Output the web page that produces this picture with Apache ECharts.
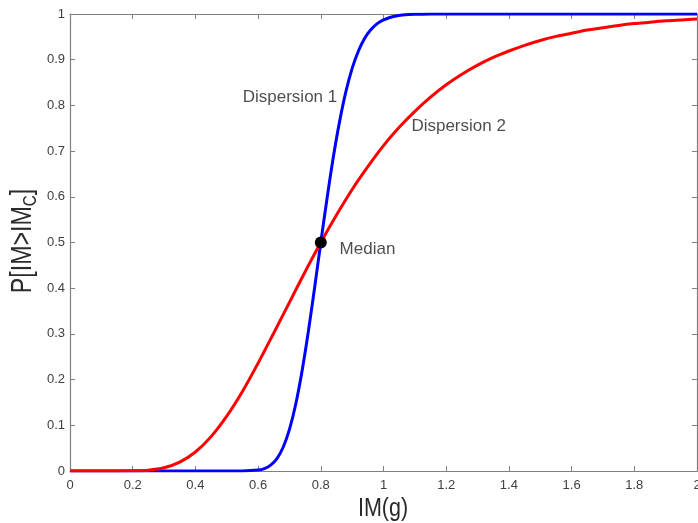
<!DOCTYPE html>
<html>
<head>
<meta charset="utf-8">
<script src="https://cdn.jsdelivr.net/npm/echarts@6/dist/echarts.min.js"></script>
<style>html,body{margin:0;padding:0;background:#fff;}#c{width:698px;height:523px;}</style>
</head>
<body>
<div id="c"></div>
<script>
// IM values (g) and P[IM>IMc]
const blueX = [0, 0.50, 0.55, 0.60, 0.62, 0.64, 0.66, 0.68, 0.70, 0.72, 0.74, 0.76, 0.78, 0.80, 0.82, 0.84, 0.86, 0.88, 0.90, 0.92, 0.94, 0.96, 0.98, 1.00, 1.02, 1.04, 1.06, 1.08, 1.10, 1.15, 1.20, 2.00];
const blueY = [0, 0, 0.0001, 0.002, 0.0054, 0.0128, 0.0272, 0.052, 0.091, 0.146, 0.218, 0.304, 0.400, 0.500, 0.597, 0.687, 0.765, 0.830, 0.881, 0.919, 0.947, 0.966, 0.979, 0.987, 0.9924, 0.9957, 0.9976, 0.9987, 0.9993, 0.9998, 1, 1];
const redX = [0, 0.05, 0.10, 0.15, 0.20, 0.25, 0.30, 0.35, 0.40, 0.45, 0.50, 0.55, 0.60, 0.65, 0.70, 0.75, 0.80, 0.85, 0.90, 0.95, 1.00, 1.05, 1.10, 1.15, 1.20, 1.25, 1.30, 1.35, 1.40, 1.45, 1.50, 1.55, 1.60, 1.65, 1.70, 1.75, 1.80, 1.85, 1.90, 1.95, 2.00];
const redY = [0, 0, 0, 0.00001, 0.0003, 0.0018, 0.0071, 0.0194, 0.0416, 0.0752, 0.120, 0.174, 0.236, 0.302, 0.369, 0.436, 0.500, 0.560, 0.616, 0.666, 0.712, 0.752, 0.787, 0.818, 0.845, 0.868, 0.888, 0.905, 0.919, 0.9315, 0.942, 0.951, 0.958, 0.965, 0.970, 0.975, 0.979, 0.982, 0.985, 0.987, 0.989];
const medianPoint = [0.8, 0.5];
const annotations = [
  { text: 'Dispersion 1', x: 0.551, y: 0.818 },
  { text: 'Dispersion 2', x: 1.089, y: 0.755 },
  { text: 'Median', x: 0.860, y: 0.486 }
];
const xTicks = { min: 0, max: 2, interval: 0.2 };
const yTicks = { min: 0, max: 1, interval: 0.1 };
const xTitle = 'IM(g)';
const yTitle = ['P[IM>IM', 'C', ']'];

const FONT = '"Liberation Sans", Arial, sans-serif';
const axisGrey = '#808080';
const labelCol = '#404040';
const titleCol = '#2a2a2a';

function zip(a, b) { return a.map((v, i) => [v, b[i]]); }

const chart = echarts.init(document.getElementById('c'));
const baseAxis = {
  axisLine: { show: true, onZero: false, lineStyle: { color: axisGrey, width: 1.2 } },
  axisTick: { show: true, inside: true, length: 5, lineStyle: { color: axisGrey } },
  splitLine: { show: false }
};
chart.setOption({
  animation: false,
  backgroundColor: '#fff',
  grid: { left: 70, right: 1, top: 14, bottom: 52, containLabel: false, outerBoundsMode: 'none' },
  xAxis: [
    Object.assign({}, baseAxis, {
      type: 'value', position: 'bottom', min: xTicks.min, max: xTicks.max, interval: xTicks.interval,
      axisLabel: { color: labelCol, fontSize: 13, fontFamily: FONT, margin: 8 }
    }),
    Object.assign({}, baseAxis, {
      type: 'value', position: 'top', min: xTicks.min, max: xTicks.max, interval: xTicks.interval,
      axisLabel: { show: false }
    })
  ],
  yAxis: [
    Object.assign({}, baseAxis, {
      type: 'value', position: 'left', min: yTicks.min, max: yTicks.max, interval: yTicks.interval,
      axisLabel: { color: labelCol, fontSize: 13, fontFamily: FONT, margin: 5 }
    }),
    Object.assign({}, baseAxis, {
      type: 'value', position: 'right', min: yTicks.min, max: yTicks.max, interval: yTicks.interval,
      axisLabel: { show: false }
    })
  ],
  graphic: [
    {
      type: 'text', x: 383, y: 509, scaleX: 0.86, z: 10,
      style: { text: xTitle, font: '25px ' + FONT, fill: titleCol, align: 'center', verticalAlign: 'middle' }
    },
    {
      type: 'text', x: 23, y: 241, rotation: Math.PI / 2, scaleX: 0.8, z: 10,
      style: {
        text: '{a|' + yTitle[0] + '}{b|' + yTitle[1] + '}{a|' + yTitle[2] + '}',
        fill: titleCol, align: 'center', verticalAlign: 'middle',
        rich: {
          a: { font: '29px ' + FONT, fill: titleCol, lineHeight: 34 },
          b: { font: '19px ' + FONT, fill: titleCol, lineHeight: 14, verticalAlign: 'bottom' }
        }
      }
    }
  ],
  series: [
    {
      name: 'Dispersion 1', type: 'line', data: zip(blueX, blueY), smooth: 0.3, showSymbol: false,
      lineStyle: { color: '#0000ff', width: 3 }, z: 3
    },
    {
      name: 'Dispersion 2', type: 'line', data: zip(redX, redY), smooth: 0.3, showSymbol: false,
      lineStyle: { color: '#ff0000', width: 3 }, z: 4
    },
    {
      name: 'Median', type: 'scatter', data: [medianPoint], symbolSize: 12,
      itemStyle: { color: '#000', opacity: 1 }, z: 5
    },
    {
      name: 'labels', type: 'scatter', symbolSize: 0, z: 6, silent: true,
      data: annotations.map(a => ({ value: [a.x, a.y], name: a.text })),
      label: {
        show: true, position: 'right', distance: 0, formatter: p => p.name,
        color: '#1e1e1e', fontSize: 17, fontFamily: FONT
      }
    }
  ]
});
</script>
</body>
</html>
